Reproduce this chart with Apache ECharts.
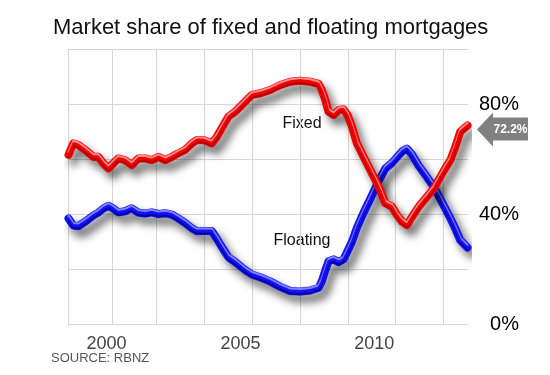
<!DOCTYPE html>
<html><head><meta charset="utf-8">
<script src="https://cdn.jsdelivr.net/npm/echarts@6/dist/echarts.min.js"></script>
<style>html,body{margin:0;padding:0;background:#fff}#c{width:550px;height:375px}</style>
</head><body><div id="c"></div>
<script>
// decimal years
const dates = [1998.58,1998.76,1998.95,1999.20,1999.51,1999.69,1999.88,2000.07,2000.25,2000.44,2000.69,2000.94,2001.19,2001.44,2001.69,2001.94,2002.19,2002.44,2002.68,2002.93,2003.19,2003.37,2003.62,2003.93,2004.12,2004.37,2004.55,2004.80,2005.05,2005.24,2005.43,2005.74,2006.11,2006.49,2006.86,2007.23,2007.61,2007.92,2008.04,2008.17,2008.29,2008.48,2008.67,2008.85,2009.00,2009.17,2009.35,2009.60,2009.85,2010.04,2010.22,2010.41,2010.66,2010.85,2011.04,2011.22,2011.41,2011.66,2011.97,2012.22,2012.47,2012.65,2012.84,2013.03,2013.21,2013.48];
const fixed = [61.5,65.7,65.1,63.3,60.8,60.8,58.4,56.6,58.4,60.2,59.6,57.8,60.2,60.2,59.6,60.8,59.6,60.8,62.1,63.3,65.7,66.9,66.9,65.7,68.1,72.4,75.4,77.2,79.6,81.5,83.3,83.9,85.1,86.9,88.1,88.5,88.1,87.3,85.1,81.5,77.2,76.0,77.8,78.1,76.0,71.7,65.7,60.8,56.0,52.4,48.7,43.9,42.7,39.6,37.2,36.0,39.0,42.7,46.3,49.3,53.6,56.6,59.6,64.5,69.9,72.2];
const floating = [38.4,35.8,35.6,37.2,39.5,40.5,42.0,43.0,42.0,40.6,41.0,42.1,40.5,40.2,40.6,40.0,40.3,39.8,38.4,36.8,34.8,33.8,33.8,33.8,31.0,27.0,24.3,22.6,20.6,19.2,18.0,17.0,15.5,13.5,12.0,11.8,12.2,13.2,15.5,19.5,22.8,23.5,22.5,23.5,26.5,30.0,35.0,40.5,45.5,49.5,53.0,56.5,58.6,60.7,62.8,63.8,61.6,57.5,53.4,49.8,45.4,42.0,38.5,34.6,30.5,27.8];
const yearLabels = [2000, 2005, 2010];
const percentLabels = [0, 40, 80];
const seriesNames = ['Fixed', 'Floating'];
const titleText = 'Market share of fixed and floating mortgages';
const sourceText = 'SOURCE: RBNZ';

const FONT = '"Liberation Sans", Arial, Helvetica, sans-serif';
const gridYears = [1998.56, 2000.215, 2001.85, 2003.64, 2005.45, 2007.23, 2009.02, 2010.77, 2012.57];
const pairs = a => dates.map((d, i) => [d, a[i]]);
const last = dates.length - 1;

function base(name, vals, color) {
  return {
    name: name, type: 'line', data: pairs(vals), symbol: 'none', silent: true, animation: false,
    lineStyle: { width: 8, color: color, cap: 'round', join: 'round',
      shadowColor: 'rgba(0,0,0,0.6)', shadowBlur: 8, shadowOffsetX: 5, shadowOffsetY: 7 },
    emphasis: { disabled: true }
  };
}
function edge(name, vals, color, edgeColor, dy, w) {
  return {
    name: name, type: 'line', data: pairs(vals), symbol: 'none', silent: true, animation: false,
    lineStyle: { width: w, color: color, cap: 'round', join: 'round',
      shadowColor: edgeColor, shadowBlur: 1, shadowOffsetX: 0, shadowOffsetY: dy },
    emphasis: { disabled: true }
  };
}

const chart = echarts.init(document.getElementById('c'), null, { renderer: 'canvas' });
const fixedMain = base(seriesNames[0], fixed, '#f20000');
fixedMain.markPoint = {
  silent: true, animation: false,
  symbol: 'path://M0 17 L16 0 L16 5 L51 5 L51 28 L16 28 L16 34 Z',
  symbolSize: [51, 34], symbolOffset: [35, 4], symbolKeepAspect: false,
  itemStyle: { color: '#808080' },
  label: { show: true, position: 'inside', offset: [8, 0], color: '#fff', fontWeight: 'bold', fontSize: 12, fontFamily: FONT, formatter: p => p.value.toFixed(1) + '%' },
  data: [{ coord: [dates[last], fixed[last]], value: fixed[last] }]
};
chart.setOption({
  backgroundColor: '#fff',
  animation: false,
  title: [
    { text: titleText, left: 53, top: 17, padding: 0, textStyle: { fontFamily: FONT, fontSize: 22, fontWeight: 'normal', color: '#111' } },
    { text: sourceText, left: 51, top: 352, padding: 0, textStyle: { fontFamily: FONT, fontSize: 13, fontWeight: 'normal', color: '#555' } }
  ],
  grid: { left: 68, right: 82, top: 49, bottom: 51 },
  xAxis: {
    type: 'value', min: 1998.56, max: 2013.5,
    axisLine: { show: false },
    axisTick: { show: false, customValues: gridYears },
    axisLabel: { customValues: yearLabels, formatter: v => String(v), fontFamily: FONT, fontSize: 18, color: '#444', margin: 11 },
    splitLine: { show: true, lineStyle: { color: '#d6d6d6', width: 1 } }
  },
  yAxis: {
    type: 'value', position: 'right', min: 0, max: 100, interval: 20,
    axisLine: { show: false }, axisTick: { show: false },
    axisLabel: { formatter: v => percentLabels.includes(v) ? v + '%' : '', align: 'right', margin: 51, fontFamily: FONT, fontSize: 20, color: '#000' },
    splitLine: { show: true, lineStyle: { color: '#d6d6d6', width: 1 } }
  },
  graphic: [
    { type: 'text', x: 302, y: 124, silent: true, style: { text: seriesNames[0], font: '16px ' + FONT, fill: '#111', textAlign: 'center', textVerticalAlign: 'middle' } },
    { type: 'text', x: 302, y: 241, silent: true, style: { text: seriesNames[1], font: '16px ' + FONT, fill: '#111', textAlign: 'center', textVerticalAlign: 'middle' } }
  ],
  series: [
    base(seriesNames[1], floating, '#1212f2'),
    edge(seriesNames[1] + ' shade', floating, '#1212f2', '#0000a8', 2.5, 2),
    edge(seriesNames[1] + ' hl', floating, '#1212f2', '#8c8cff', -2.5, 2),
    fixedMain,
    edge(seriesNames[0] + ' shade', fixed, '#f20000', '#b00000', 2.5, 2),
    edge(seriesNames[0] + ' hl', fixed, '#f20000', '#ff9a9a', -2.5, 2)
  ]
});
</script>
</body></html>
